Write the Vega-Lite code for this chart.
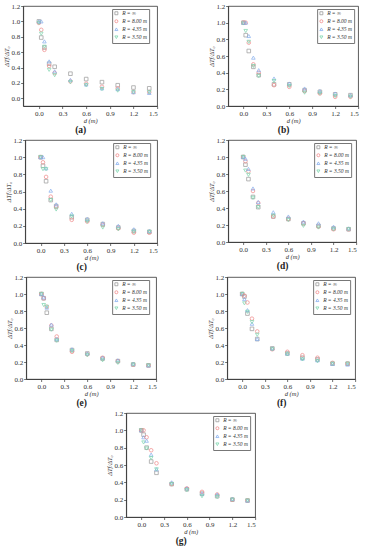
{
  "$schema": "https://vega.github.io/schema/vega-lite/v6.json",
  "padding": {"left": 3, "top": 1, "right": 2, "bottom": 0},
  "background": "white",
  "config": {
    "font": "Liberation Serif",
    "view": {"stroke": "#333333", "strokeWidth": 0.8},
    "axis": {"grid": false, "labelFontSize": 7, "titleFontSize": 6.5, "titleFontStyle": "italic", "titleFontWeight": "normal", "labelPadding": 1, "titlePadding": 1, "tickSize": 2.5, "tickColor": "#333", "domainColor": "#333", "labelColor": "#333", "titleColor": "#333", "domainWidth": 0.8, "tickWidth": 0.7},
    "point": {"filled": false, "size": 13, "strokeWidth": 0.8, "opacity": 0.9},
    "title": {"orient": "bottom", "frame": "bounds", "anchor": "middle", "fontSize": 9.5, "fontWeight": "bold", "offset": 1, "color": "#222"},
    "legend": {"orient": "none", "legendY": 3, "title": null, "strokeColor": "#777", "padding": 1.5, "labelFontSize": 5.5, "symbolSize": 9, "rowPadding": 0, "labelOffset": 3, "symbolStrokeWidth": 0.7, "labelColor": "#333", "labelFontStyle": "italic"},
    "concat": {"spacing": 50}
  },
  "datasets": {
    "t": [
      {"p": "a", "d": 0, "inf": 1.0, "r800": 0.98, "r435": 1.0, "r350": 0.98},
      {"p": "a", "d": 0.03, "inf": 0.79, "r800": 0.89, "r435": 1.0, "r350": 0.84},
      {"p": "a", "d": 0.07, "inf": 0.66, "r800": 0.63, "r435": 0.74, "r350": 0.67},
      {"p": "a", "d": 0.13, "inf": 0.45, "r800": 0.42, "r435": 0.48, "r350": 0.37},
      {"p": "a", "d": 0.2, "inf": 0.41, "r800": 0.33, "r435": 0.35, "r350": 0.3},
      {"p": "a", "d": 0.4, "inf": 0.32, "r800": 0.22, "r435": 0.24, "r350": 0.21},
      {"p": "a", "d": 0.6, "inf": 0.25, "r800": 0.19, "r435": 0.18, "r350": 0.17},
      {"p": "a", "d": 0.8, "inf": 0.21, "r800": 0.15, "r435": 0.13, "r350": 0.12},
      {"p": "a", "d": 1.0, "inf": 0.17, "r800": 0.13, "r435": 0.12, "r350": 0.1},
      {"p": "a", "d": 1.2, "inf": 0.14, "r800": 0.08, "r435": 0.08, "r350": 0.08},
      {"p": "a", "d": 1.4, "inf": 0.13, "r800": 0.08, "r435": 0.07, "r350": 0.08},
      {"p": "b", "d": 0, "inf": 1.0, "r800": 1.0, "r435": 1.0, "r350": 0.99},
      {"p": "b", "d": 0.03, "inf": 0.85, "r800": 1.0, "r435": 1.0, "r350": 0.9},
      {"p": "b", "d": 0.07, "inf": 0.66, "r800": 0.76, "r435": 0.84, "r350": 0.77},
      {"p": "b", "d": 0.13, "inf": 0.47, "r800": 0.5, "r435": 0.58, "r350": 0.48},
      {"p": "b", "d": 0.2, "inf": 0.37, "r800": 0.4, "r435": 0.43, "r350": 0.36},
      {"p": "b", "d": 0.4, "inf": 0.26, "r800": 0.25, "r435": 0.33, "r350": 0.3},
      {"p": "b", "d": 0.6, "inf": 0.26, "r800": 0.23, "r435": 0.27, "r350": 0.24},
      {"p": "b", "d": 0.8, "inf": 0.19, "r800": 0.18, "r435": 0.21, "r350": 0.16},
      {"p": "b", "d": 1.0, "inf": 0.17, "r800": 0.15, "r435": 0.18, "r350": 0.15},
      {"p": "b", "d": 1.2, "inf": 0.14, "r800": 0.11, "r435": 0.15, "r350": 0.12},
      {"p": "b", "d": 1.4, "inf": 0.13, "r800": 0.11, "r435": 0.13, "r350": 0.11},
      {"p": "c", "d": 0, "inf": 1.0, "r800": 1.0, "r435": 1.0, "r350": 1.0},
      {"p": "c", "d": 0.03, "inf": 0.9, "r800": 0.94, "r435": 1.0, "r350": 0.86},
      {"p": "c", "d": 0.07, "inf": 0.72, "r800": 0.77, "r435": 0.87, "r350": 0.86},
      {"p": "c", "d": 0.13, "inf": 0.5, "r800": 0.54, "r435": 0.61, "r350": 0.5},
      {"p": "c", "d": 0.2, "inf": 0.43, "r800": 0.42, "r435": 0.45, "r350": 0.39},
      {"p": "c", "d": 0.4, "inf": 0.3, "r800": 0.27, "r435": 0.34, "r350": 0.31},
      {"p": "c", "d": 0.6, "inf": 0.27, "r800": 0.25, "r435": 0.28, "r350": 0.25},
      {"p": "c", "d": 0.8, "inf": 0.22, "r800": 0.21, "r435": 0.23, "r350": 0.18},
      {"p": "c", "d": 1.0, "inf": 0.18, "r800": 0.17, "r435": 0.2, "r350": 0.16},
      {"p": "c", "d": 1.2, "inf": 0.14, "r800": 0.12, "r435": 0.16, "r350": 0.13},
      {"p": "c", "d": 1.4, "inf": 0.13, "r800": 0.12, "r435": 0.14, "r350": 0.13},
      {"p": "d", "d": 0, "inf": 1.0, "r800": 1.0, "r435": 1.0, "r350": 1.0},
      {"p": "d", "d": 0.03, "inf": 0.91, "r800": 0.95, "r435": 0.98, "r350": 0.84},
      {"p": "d", "d": 0.07, "inf": 0.74, "r800": 0.83, "r435": 0.86, "r350": 0.79},
      {"p": "d", "d": 0.13, "inf": 0.53, "r800": 0.6, "r435": 0.63, "r350": 0.52},
      {"p": "d", "d": 0.2, "inf": 0.41, "r800": 0.46, "r435": 0.47, "r350": 0.41},
      {"p": "d", "d": 0.4, "inf": 0.3, "r800": 0.3, "r435": 0.35, "r350": 0.31},
      {"p": "d", "d": 0.6, "inf": 0.27, "r800": 0.27, "r435": 0.3, "r350": 0.26},
      {"p": "d", "d": 0.8, "inf": 0.22, "r800": 0.22, "r435": 0.24, "r350": 0.19},
      {"p": "d", "d": 1.0, "inf": 0.19, "r800": 0.18, "r435": 0.22, "r350": 0.17},
      {"p": "d", "d": 1.2, "inf": 0.16, "r800": 0.15, "r435": 0.18, "r350": 0.15},
      {"p": "d", "d": 1.4, "inf": 0.15, "r800": 0.15, "r435": 0.16, "r350": 0.15},
      {"p": "e", "d": 0, "inf": 1.0, "r800": 1.0, "r435": 1.0, "r350": 1.0},
      {"p": "e", "d": 0.03, "inf": 0.95, "r800": 0.95, "r435": 0.96, "r350": 0.87},
      {"p": "e", "d": 0.07, "inf": 0.78, "r800": 0.85, "r435": 0.84, "r350": 0.85},
      {"p": "e", "d": 0.13, "inf": 0.59, "r800": 0.63, "r435": 0.64, "r350": 0.58},
      {"p": "e", "d": 0.2, "inf": 0.46, "r800": 0.5, "r435": 0.47, "r350": 0.45},
      {"p": "e", "d": 0.4, "inf": 0.34, "r800": 0.32, "r435": 0.35, "r350": 0.33},
      {"p": "e", "d": 0.6, "inf": 0.3, "r800": 0.29, "r435": 0.3, "r350": 0.28},
      {"p": "e", "d": 0.8, "inf": 0.24, "r800": 0.25, "r435": 0.25, "r350": 0.22},
      {"p": "e", "d": 1.0, "inf": 0.21, "r800": 0.21, "r435": 0.22, "r350": 0.19},
      {"p": "e", "d": 1.2, "inf": 0.17, "r800": 0.17, "r435": 0.18, "r350": 0.17},
      {"p": "e", "d": 1.4, "inf": 0.16, "r800": 0.16, "r435": 0.16, "r350": 0.16},
      {"p": "f", "d": 0, "inf": 1.0, "r800": 1.0, "r435": 1.0, "r350": 1.0},
      {"p": "f", "d": 0.03, "inf": 0.97, "r800": 0.98, "r435": 0.94, "r350": 0.89},
      {"p": "f", "d": 0.07, "inf": 0.77, "r800": 0.9, "r435": 0.81, "r350": 0.79},
      {"p": "f", "d": 0.13, "inf": 0.59, "r800": 0.71, "r435": 0.65, "r350": 0.67},
      {"p": "f", "d": 0.2, "inf": 0.47, "r800": 0.56, "r435": 0.47, "r350": 0.52},
      {"p": "f", "d": 0.4, "inf": 0.36, "r800": 0.35, "r435": 0.36, "r350": 0.35},
      {"p": "f", "d": 0.6, "inf": 0.3, "r800": 0.32, "r435": 0.3, "r350": 0.29},
      {"p": "f", "d": 0.8, "inf": 0.25, "r800": 0.28, "r435": 0.24, "r350": 0.23},
      {"p": "f", "d": 1.0, "inf": 0.23, "r800": 0.25, "r435": 0.22, "r350": 0.21},
      {"p": "f", "d": 1.2, "inf": 0.18, "r800": 0.19, "r435": 0.18, "r350": 0.18},
      {"p": "f", "d": 1.4, "inf": 0.18, "r800": 0.18, "r435": 0.17, "r350": 0.18},
      {"p": "g", "d": 0, "inf": 1.0, "r800": 1.0, "r435": 1.0, "r350": 1.0},
      {"p": "g", "d": 0.03, "inf": 0.95, "r800": 1.0, "r435": 0.92, "r350": 0.86},
      {"p": "g", "d": 0.07, "inf": 0.8, "r800": 0.92, "r435": 0.88, "r350": 0.79},
      {"p": "g", "d": 0.13, "inf": 0.64, "r800": 0.77, "r435": 0.72, "r350": 0.68},
      {"p": "g", "d": 0.2, "inf": 0.51, "r800": 0.62, "r435": 0.55, "r350": 0.55},
      {"p": "g", "d": 0.4, "inf": 0.38, "r800": 0.38, "r435": 0.4, "r350": 0.38},
      {"p": "g", "d": 0.6, "inf": 0.32, "r800": 0.33, "r435": 0.33, "r350": 0.31},
      {"p": "g", "d": 0.8, "inf": 0.27, "r800": 0.29, "r435": 0.27, "r350": 0.24},
      {"p": "g", "d": 1.0, "inf": 0.24, "r800": 0.26, "r435": 0.26, "r350": 0.23},
      {"p": "g", "d": 1.2, "inf": 0.2, "r800": 0.2, "r435": 0.21, "r350": 0.2},
      {"p": "g", "d": 1.4, "inf": 0.19, "r800": 0.19, "r435": 0.19, "r350": 0.19}
    ]
  },
  "center": true,
  "spacing": 0,
  "resolve": {"scale": {"x": "independent", "y": "independent", "color": "independent", "shape": "independent"}, "legend": {"color": "independent", "shape": "independent"}},
  "vconcat": [
    {
      "hconcat": [
        {"width": 134, "height": 100, "title": "(a)", "data": {"name": "t"}, "transform": [{"filter": "datum.p == 'a'"}, {"fold": ["inf", "r800", "r435", "r350"], "as": ["R", "v"]}], "mark": "point",
         "encoding": {
          "x": {"field": "d", "type": "quantitative", "scale": {"domain": [-0.2, 1.5], "nice": false, "zero": false}, "axis": {"values": [0, 0.3, 0.6, 0.9, 1.2, 1.5], "format": ".1f", "title": "d (m)"}},
          "y": {"field": "v", "type": "quantitative", "scale": {"domain": [-0.1, 1.2], "nice": false, "zero": false}, "axis": {"values": [0, 0.2, 0.4, 0.6, 0.8, 1.0, 1.2], "format": ".1f", "title": "ΔTf/ΔT₀"}},
          "color": {"field": "R", "type": "nominal", "scale": {"domain": ["inf", "r800", "r435", "r350"], "range": ["#9a9a9a", "#f08a8a", "#86aeee", "#7dd6ae"]}, "legend": {"legendX": 89, "labelExpr": "datum.label == 'inf' ? 'R = ∞' : datum.label == 'r800' ? 'R = 8.00 m' : datum.label == 'r435' ? 'R = 4.35 m' : 'R = 3.50 m'"}},
          "shape": {"field": "R", "type": "nominal", "scale": {"domain": ["inf", "r800", "r435", "r350"], "range": ["square", "circle", "triangle-up", "triangle-down"]}}
         }},
        {"width": 130, "height": 100, "title": "(b)", "data": {"name": "t"}, "transform": [{"filter": "datum.p == 'b'"}, {"fold": ["inf", "r800", "r435", "r350"], "as": ["R", "v"]}], "mark": "point",
         "encoding": {
          "x": {"field": "d", "type": "quantitative", "scale": {"domain": [-0.2, 1.5], "nice": false, "zero": false}, "axis": {"values": [0, 0.3, 0.6, 0.9, 1.2, 1.5], "format": ".1f", "title": "d (m)"}},
          "y": {"field": "v", "type": "quantitative", "scale": {"domain": [0, 1.2], "nice": false, "zero": false}, "axis": {"values": [0, 0.2, 0.4, 0.6, 0.8, 1.0, 1.2], "format": ".1f", "title": "ΔTf/ΔT₀"}},
          "color": {"field": "R", "type": "nominal", "scale": {"domain": ["inf", "r800", "r435", "r350"], "range": ["#9a9a9a", "#f08a8a", "#86aeee", "#7dd6ae"]}, "legend": {"legendX": 89, "labelExpr": "datum.label == 'inf' ? 'R = ∞' : datum.label == 'r800' ? 'R = 8.00 m' : datum.label == 'r435' ? 'R = 4.35 m' : 'R = 3.50 m'"}},
          "shape": {"field": "R", "type": "nominal", "scale": {"domain": ["inf", "r800", "r435", "r350"], "range": ["square", "circle", "triangle-up", "triangle-down"]}}
         }}
      ],
      "resolve": {"scale": {"x": "independent", "y": "independent", "color": "independent", "shape": "independent"}, "legend": {"color": "independent", "shape": "independent"}}
    },
    {
      "hconcat": [
        {"width": 132, "height": 103, "title": "(c)", "data": {"name": "t"}, "transform": [{"filter": "datum.p == 'c'"}, {"fold": ["inf", "r800", "r435", "r350"], "as": ["R", "v"]}], "mark": "point",
         "encoding": {
          "x": {"field": "d", "type": "quantitative", "scale": {"domain": [-0.2, 1.5], "nice": false, "zero": false}, "axis": {"values": [0, 0.3, 0.6, 0.9, 1.2, 1.5], "format": ".1f", "title": "d (m)"}},
          "y": {"field": "v", "type": "quantitative", "scale": {"domain": [0, 1.2], "nice": false, "zero": false}, "axis": {"values": [0, 0.2, 0.4, 0.6, 0.8, 1.0, 1.2], "format": ".1f", "title": "ΔTf/ΔT₀"}},
          "color": {"field": "R", "type": "nominal", "scale": {"domain": ["inf", "r800", "r435", "r350"], "range": ["#9a9a9a", "#f08a8a", "#86aeee", "#7dd6ae"]}, "legend": {"legendX": 88, "labelExpr": "datum.label == 'inf' ? 'R = ∞' : datum.label == 'r800' ? 'R = 8.00 m' : datum.label == 'r435' ? 'R = 4.35 m' : 'R = 3.50 m'"}},
          "shape": {"field": "R", "type": "nominal", "scale": {"domain": ["inf", "r800", "r435", "r350"], "range": ["square", "circle", "triangle-up", "triangle-down"]}}
         }},
        {"width": 128, "height": 102, "title": "(d)", "data": {"name": "t"}, "transform": [{"filter": "datum.p == 'd'"}, {"fold": ["inf", "r800", "r435", "r350"], "as": ["R", "v"]}], "mark": "point",
         "encoding": {
          "x": {"field": "d", "type": "quantitative", "scale": {"domain": [-0.2, 1.5], "nice": false, "zero": false}, "axis": {"values": [0, 0.3, 0.6, 0.9, 1.2, 1.5], "format": ".1f", "title": "d (m)"}},
          "y": {"field": "v", "type": "quantitative", "scale": {"domain": [0, 1.2], "nice": false, "zero": false}, "axis": {"values": [0, 0.2, 0.4, 0.6, 0.8, 1.0, 1.2], "format": ".1f", "title": "ΔTf/ΔT₀"}},
          "color": {"field": "R", "type": "nominal", "scale": {"domain": ["inf", "r800", "r435", "r350"], "range": ["#9a9a9a", "#f08a8a", "#86aeee", "#7dd6ae"]}, "legend": {"legendX": 86, "labelExpr": "datum.label == 'inf' ? 'R = ∞' : datum.label == 'r800' ? 'R = 8.00 m' : datum.label == 'r435' ? 'R = 4.35 m' : 'R = 3.50 m'"}},
          "shape": {"field": "R", "type": "nominal", "scale": {"domain": ["inf", "r800", "r435", "r350"], "range": ["square", "circle", "triangle-up", "triangle-down"]}}
         }}
      ],
      "resolve": {"scale": {"x": "independent", "y": "independent", "color": "independent", "shape": "independent"}, "legend": {"color": "independent", "shape": "independent"}}
    },
    {
      "hconcat": [
        {"width": 130, "height": 102, "title": "(e)", "data": {"name": "t"}, "transform": [{"filter": "datum.p == 'e'"}, {"fold": ["inf", "r800", "r435", "r350"], "as": ["R", "v"]}], "mark": "point",
         "encoding": {
          "x": {"field": "d", "type": "quantitative", "scale": {"domain": [-0.2, 1.5], "nice": false, "zero": false}, "axis": {"values": [0, 0.3, 0.6, 0.9, 1.2, 1.5], "format": ".1f", "title": "d (m)"}},
          "y": {"field": "v", "type": "quantitative", "scale": {"domain": [0, 1.2], "nice": false, "zero": false}, "axis": {"values": [0, 0.2, 0.4, 0.6, 0.8, 1.0, 1.2], "format": ".1f", "title": "ΔTf/ΔT₀"}},
          "color": {"field": "R", "type": "nominal", "scale": {"domain": ["inf", "r800", "r435", "r350"], "range": ["#9a9a9a", "#f08a8a", "#86aeee", "#7dd6ae"]}, "legend": {"legendX": 86, "labelExpr": "datum.label == 'inf' ? 'R = ∞' : datum.label == 'r800' ? 'R = 8.00 m' : datum.label == 'r435' ? 'R = 4.35 m' : 'R = 3.50 m'"}},
          "shape": {"field": "R", "type": "nominal", "scale": {"domain": ["inf", "r800", "r435", "r350"], "range": ["square", "circle", "triangle-up", "triangle-down"]}}
         }},
        {"width": 128, "height": 102, "title": "(f)", "data": {"name": "t"}, "transform": [{"filter": "datum.p == 'f'"}, {"fold": ["inf", "r800", "r435", "r350"], "as": ["R", "v"]}], "mark": "point",
         "encoding": {
          "x": {"field": "d", "type": "quantitative", "scale": {"domain": [-0.2, 1.5], "nice": false, "zero": false}, "axis": {"values": [0, 0.3, 0.6, 0.9, 1.2, 1.5], "format": ".1f", "title": "d (m)"}},
          "y": {"field": "v", "type": "quantitative", "scale": {"domain": [0, 1.2], "nice": false, "zero": false}, "axis": {"values": [0, 0.2, 0.4, 0.6, 0.8, 1.0, 1.2], "format": ".1f", "title": "ΔTf/ΔT₀"}},
          "color": {"field": "R", "type": "nominal", "scale": {"domain": ["inf", "r800", "r435", "r350"], "range": ["#9a9a9a", "#f08a8a", "#86aeee", "#7dd6ae"]}, "legend": {"legendX": 86, "labelExpr": "datum.label == 'inf' ? 'R = ∞' : datum.label == 'r800' ? 'R = 8.00 m' : datum.label == 'r435' ? 'R = 4.35 m' : 'R = 3.50 m'"}},
          "shape": {"field": "R", "type": "nominal", "scale": {"domain": ["inf", "r800", "r435", "r350"], "range": ["square", "circle", "triangle-up", "triangle-down"]}}
         }}
      ],
      "resolve": {"scale": {"x": "independent", "y": "independent", "color": "independent", "shape": "independent"}, "legend": {"color": "independent", "shape": "independent"}}
    },
    {"width": 129, "height": 104, "title": "(g)", "data": {"name": "t"}, "transform": [{"filter": "datum.p == 'g'"}, {"fold": ["inf", "r800", "r435", "r350"], "as": ["R", "v"]}], "mark": "point",
     "encoding": {
      "x": {"field": "d", "type": "quantitative", "scale": {"domain": [-0.2, 1.5], "nice": false, "zero": false}, "axis": {"values": [0, 0.3, 0.6, 0.9, 1.2, 1.5], "format": ".1f", "title": "d (m)"}},
      "y": {"field": "v", "type": "quantitative", "scale": {"domain": [0, 1.2], "nice": false, "zero": false}, "axis": {"values": [0, 0.2, 0.4, 0.6, 0.8, 1.0, 1.2], "format": ".1f", "title": "ΔTf/ΔT₀"}},
      "color": {"field": "R", "type": "nominal", "scale": {"domain": ["inf", "r800", "r435", "r350"], "range": ["#9a9a9a", "#f08a8a", "#86aeee", "#7dd6ae"]}, "legend": {"legendX": 87, "labelExpr": "datum.label == 'inf' ? 'R = ∞' : datum.label == 'r800' ? 'R = 8.00 m' : datum.label == 'r435' ? 'R = 4.35 m' : 'R = 3.50 m'"}},
      "shape": {"field": "R", "type": "nominal", "scale": {"domain": ["inf", "r800", "r435", "r350"], "range": ["square", "circle", "triangle-up", "triangle-down"]}}
     }}
  ]
}
